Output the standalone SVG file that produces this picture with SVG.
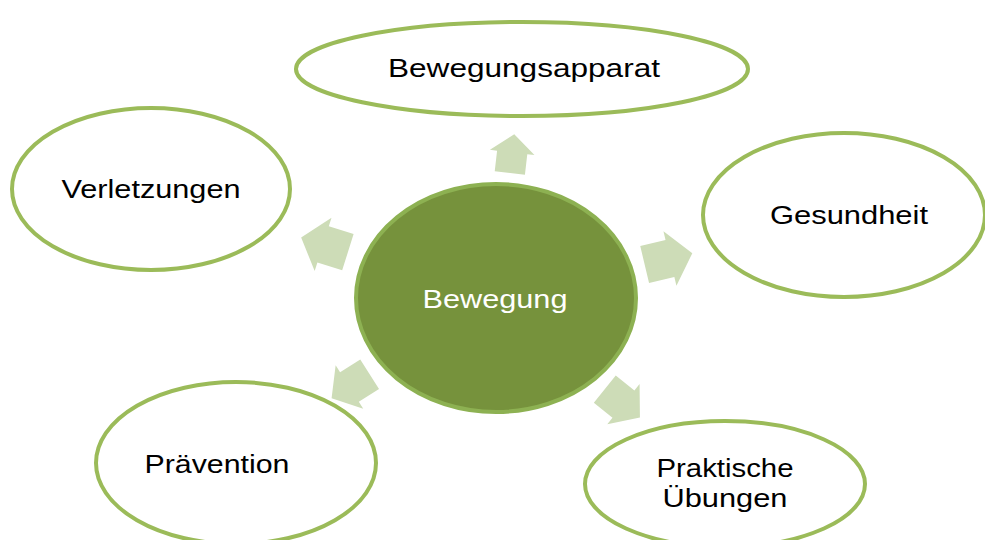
<svg xmlns="http://www.w3.org/2000/svg" width="985" height="540" viewBox="0 0 985 540">
<style>
.outer{fill:#fff;stroke:#9BBB59;stroke-width:4}
.center{fill:#76923C;stroke:#8DB152;stroke-width:4}
.lbl{font-family:"Liberation Sans",Arial,sans-serif;font-size:26px;fill:#000;text-anchor:middle}
.clbl{font-family:"Liberation Sans",Arial,sans-serif;font-size:26px;fill:#fff;text-anchor:middle}
.arr{fill:#CDDCB7}
</style>
<defs>
<polygon id="ar" points="-24,-19 2,-19 2,-28 25,0 2,28 2,19 -24,19"/>
</defs>
<g id="connectors">
<use href="#ar" class="arr" transform="translate(512,154) rotate(-83.5) scale(0.8)"/>
<use href="#ar" class="arr" transform="translate(668,259) rotate(-13.4) scale(1)"/>
<use href="#ar" class="arr" transform="translate(325,245) rotate(197.5) scale(1)"/>
<use href="#ar" class="arr" transform="translate(351,386) rotate(147.6) scale(0.92)"/>
<use href="#ar" class="arr" transform="translate(622,403) rotate(38.8) scale(0.92)"/>
</g>
<g id="n-bewegungsapparat">
<ellipse class="outer" cx="522" cy="69" rx="226" ry="47"/>
<text class="lbl" x="524" y="77" textLength="272" lengthAdjust="spacingAndGlyphs">Bewegungsapparat</text>
</g>
<g id="n-verletzungen">
<ellipse class="outer" cx="151" cy="189" rx="139" ry="81"/>
<text class="lbl" x="151" y="198" textLength="179" lengthAdjust="spacingAndGlyphs">Verletzungen</text>
</g>
<g id="n-gesundheit">
<ellipse class="outer" cx="844" cy="215" rx="141" ry="82"/>
<text class="lbl" x="849" y="224" textLength="158" lengthAdjust="spacingAndGlyphs">Gesundheit</text>
</g>
<g id="n-praevention">
<ellipse class="outer" cx="236" cy="463" rx="140" ry="81"/>
<text class="lbl" x="217" y="473" textLength="145" lengthAdjust="spacingAndGlyphs">Prävention</text>
</g>
<g id="n-praktische">
<ellipse class="outer" cx="725" cy="484" rx="140" ry="63"/>
<text class="lbl" x="725" y="477" textLength="137" lengthAdjust="spacingAndGlyphs">Praktische</text>
<text class="lbl" x="725" y="507" textLength="125" lengthAdjust="spacingAndGlyphs">Übungen</text>
</g>
<g id="n-bewegung">
<ellipse class="center" cx="496" cy="298" rx="140" ry="114"/>
<text class="clbl" x="495" y="308" textLength="145" lengthAdjust="spacingAndGlyphs">Bewegung</text>
</g>
</svg>
